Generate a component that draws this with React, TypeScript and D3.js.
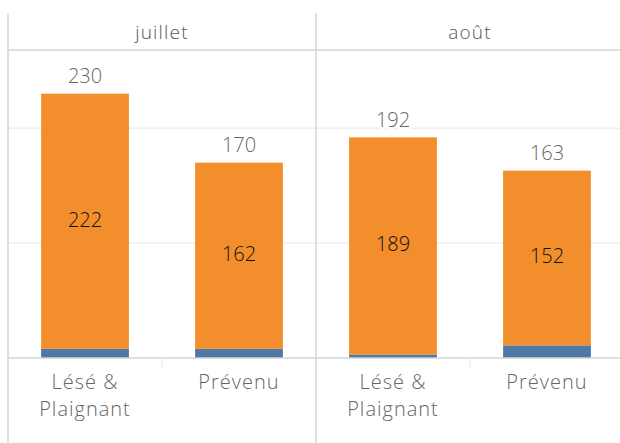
import React from 'react';
import * as d3 from 'd3';

// months (panes) and categories (bars within each pane)
const months = ['juillet', 'août'];
const categories = ['Lésé & Plaignant', 'Prévenu'];

// stacked values per month, in category order
const blueValues = [[8, 8], [3, 11]];
const orangeValues = [[222, 162], [189, 152]];
const totals = [[230, 170], [192, 163]];

const yTicks = [100, 200];

const W = 620;
const H = 443;
const left = 8;
const headerTop = 13;
const headerBottom = 50;
const baseline = 358;
const font = '"Open Sans", "Noto Sans", sans-serif';

const App = () => {
  const paneX = d3.scaleBand<string>().domain(months).range([left, left + 616]);
  const bandX = d3.scaleBand<string>()
    .domain(categories)
    .range([0, paneX.bandwidth()])
    .paddingInner(0.43)
    .paddingOuter(0.215);
  const y = d3.scaleLinear().domain([0, 268]).range([baseline, headerBottom]);

  return (
    <svg width={W} height={H} style={{ position: 'absolute', left: 0, top: 0, background: '#fff' }}>
      {/* gridlines */}
      {yTicks.map(t => (
        <line key={t} x1={left} x2={W} y1={y(t)} y2={y(t)} stroke="#efefef" strokeWidth={1.5} />
      ))}

      {months.map((m, mi) => {
        const px = paneX(m)!;
        return (
          <g key={m}>
            <text x={px + paneX.bandwidth() / 2} y={34} textAnchor="middle" dominantBaseline="middle"
              fontFamily={font} fontSize={19} fontWeight={300} letterSpacing={1.2} fill="#555">{m}</text>
            {categories.map((c, ci) => {
              const bx = px + bandX(c)!;
              const bw = bandX.bandwidth();
              const b = blueValues[mi][ci];
              const o = orangeValues[mi][ci];
              const lines = c === 'Lésé & Plaignant' ? ['Lésé &', 'Plaignant'] : [c];
              return (
                <g key={c}>
                  <rect x={bx} width={bw} y={y(b)} height={y(0) - y(b)} fill="#4e79a7" />
                  <rect x={bx} width={bw} y={y(b + o)} height={y(b) - y(b + o)} fill="#f28e2b" />
                  <text x={bx + bw / 2} y={y(b + o / 2)} textAnchor="middle" dominantBaseline="middle"
                    fontFamily={font} fontSize={20} fontWeight={340} fill="#111">{o}</text>
                  <text x={bx + bw / 2} y={y(totals[mi][ci]) - 16} textAnchor="middle" dominantBaseline="middle"
                    fontFamily={font} fontSize={20} fontWeight={300} fill="#666"
                    stroke="#fff" strokeWidth={4} paintOrder="stroke">{totals[mi][ci]}</text>
                  {lines.map((l, li) => (
                    <text key={l} x={bx + bw / 2} y={384 + li * 27} textAnchor="middle" dominantBaseline="middle"
                      fontFamily={font} fontSize={20} fontWeight={300} letterSpacing={1} fill="#666">{l}</text>
                  ))}
                </g>
              );
            })}
            {/* small tick between the two categories */}
            <line x1={px + paneX.bandwidth() / 2} x2={px + paneX.bandwidth() / 2} y1={baseline} y2={367}
              stroke="#eee" strokeWidth={1.5} />
          </g>
        );
      })}

      {/* frame */}
      <line x1={left} x2={W} y1={headerBottom} y2={headerBottom} stroke="#d4d4d4" strokeWidth={1.5} />
      <line x1={left} x2={W} y1={baseline} y2={baseline} stroke="#d4d4d4" strokeWidth={1.5} />
      <line x1={left} x2={left} y1={headerTop} y2={H} stroke="#d4d4d4" strokeWidth={1.5} />
      <line x1={paneX(months[1])} x2={paneX(months[1])} y1={headerTop} y2={H} stroke="#d4d4d4" strokeWidth={1.5} />
    </svg>
  );
};

export default App;
